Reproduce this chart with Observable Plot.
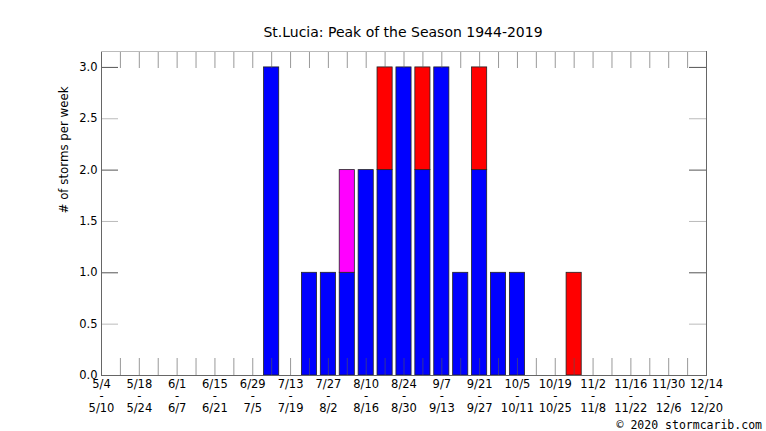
<!DOCTYPE html>
<html>
<head>
<meta charset="utf-8">
<script src="https://cdn.jsdelivr.net/npm/d3@7"></script>
<script src="https://cdn.jsdelivr.net/npm/@observablehq/plot@0.6"></script>
<style>
  html, body { margin: 0; padding: 0; background: #fff; }
  #wrap { position: relative; width: 766px; height: 431px; font-family: "DejaVu Sans", sans-serif; }
  #title { position: absolute; left: 0; width: 806px; top: 24px; text-align: center; font-size: 14px; color: #000; }
  #credit { position: absolute; right: 4px; top: 418px; font-family: "DejaVu Sans Mono", monospace; font-size: 11.5px; color: #000; }
  svg { display: block; }
</style>
</head>
<body>
<div id="wrap">
  <div id="title">St.Lucia: Peak of the Season 1944-2019</div>
  <div id="credit">© 2020 stormcarib.com</div>
</div>
<script>
// Week index (0 = week of 5/4) of each bar
const weeks          = [9, 11, 12, 13, 14, 15, 16, 17, 18, 19, 20, 21, 22, 25];
const blueCounts     = [3, 1, 1, 1, 2, 2, 3, 2, 3, 1, 2, 1, 1, 0];
const magentaCounts  = [0, 0, 0, 1, 0, 0, 0, 0, 0, 0, 0, 0, 0, 0];
const redCounts      = [0, 0, 0, 0, 0, 1, 0, 1, 0, 0, 1, 0, 0, 1];

// x tick labels (every two weeks)
const tickStarts = ["5/4","5/18","6/1","6/15","6/29","7/13","7/27","8/10","8/24","9/7","9/21","10/5","10/19","11/2","11/16","11/30","12/14"];
const tickEnds   = ["5/10","5/24","6/7","6/21","7/5","7/19","8/2","8/16","8/30","9/13","9/27","10/11","10/25","11/8","11/22","12/6","12/20"];
const yTicks = [0, 0.5, 1, 1.5, 2, 2.5, 3];
const yLabel = "# of storms per week";

const series = [
  {name: "blue", values: blueCounts},
  {name: "magenta", values: magentaCounts},
  {name: "red", values: redCounts}
];
const rows = [];
weeks.forEach((w, i) => {
  for (const s of series) {
    if (s.values[i] > 0) rows.push({week: w, color: s.name, count: s.values[i]});
  }
});

const nWeeks = (tickStarts.length - 1) * 2; // 32
const allWeeks = d3.range(nWeeks + 1);
const labelWeeks = d3.range(0, nWeeks + 1, 2);
const yMax = 3.155;
const W = 766, H = 431, mL = 101, mR = 60, mT = 51, mB = 56;
const plotW = W - mL - mR, plotH = H - mT - mB;
const tickLen = 17;
const half = 0.4;

const xLabelAxis = (fmt, pad) => Plot.axisX({
  ticks: labelWeeks,
  tickSize: 0,
  tickPadding: pad,
  tickFormat: fmt,
  label: null,
  fontSize: 11.5
});

const chart = Plot.plot({
  width: W,
  height: H,
  marginLeft: mL,
  marginRight: mR,
  marginTop: mT,
  marginBottom: mB,
  style: {fontFamily: "DejaVu Sans, sans-serif", fontSize: "11.5px", color: "#000", background: "#fff"},
  x: {type: "linear", domain: [0, nWeeks]},
  y: {type: "linear", domain: [0, yMax]},
  marks: [
    Plot.rectY(rows, {
      x1: d => d.week - half,
      x2: d => d.week + half,
      y: "count",
      fill: "color",
      stroke: "#222",
      strokeWidth: 0.8
    }),
    // inward ticks, bottom and top
    Plot.ruleX(allWeeks, {x: d => d, insetTop: plotH - tickLen, stroke: "#555", strokeOpacity: 0.6}),
    Plot.ruleX(allWeeks, {x: d => d, insetBottom: plotH - tickLen, stroke: "#555", strokeOpacity: 0.6}),
    // inward y ticks, left and right
    Plot.ruleY(yTicks, {y: d => d, insetRight: plotW - tickLen, stroke: d => d % 1 === 0 ? "#555" : "#bbb"}),
    Plot.ruleY(yTicks, {y: d => d, insetLeft: plotW - tickLen, stroke: d => d % 1 === 0 ? "#555" : "#bbb"}),
    Plot.frame({stroke: "#666"}),
    Plot.ruleY([yMax], {stroke: "#bbb"}),
    Plot.axisY({
      ticks: yTicks,
      tickSize: 0,
      tickPadding: 4,
      tickFormat: d3.format(".1f"),
      label: null,
      fontSize: 11.5
    }),
    xLabelAxis(d => tickStarts[d / 2], 4),
    xLabelAxis(() => "-", 16),
    xLabelAxis(d => tickEnds[d / 2], 28),
    Plot.text([yLabel], {
      frameAnchor: "left",
      dx: -37,
      rotate: -90,
      text: d => d,
      fontSize: 11.8,
      fill: "#000"
    })
  ]
});
document.getElementById("wrap").prepend(chart);
</script>
</body>
</html>
